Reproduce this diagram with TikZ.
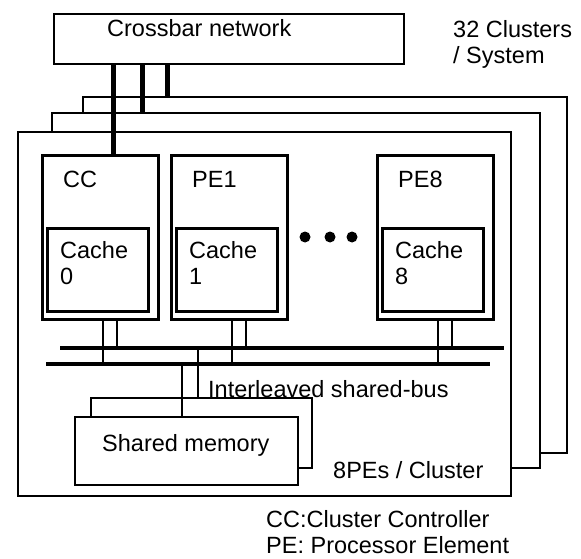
\documentclass[tikz,border=0pt]{standalone}
\usepackage{fontspec}
\setmainfont{Liberation Sans}
\usetikzlibrary{positioning}

\tikzset{
  frame/.style={draw, line width=1.6pt, fill=white, anchor=north west,
    inner sep=0pt, outer sep=0pt},
  xbarbox/.style={draw, line width=1.8pt, anchor=north west,
    minimum width=350pt, minimum height=50pt, inner sep=0pt, outer sep=0pt},
  pebox/.style={draw, line width=3pt, anchor=north west,
    minimum width=116pt, minimum height=163pt, inner sep=0pt, outer sep=0pt},
  cachebox/.style={draw, line width=3pt, anchor=south west,
    minimum width=101pt, minimum height=83pt, inner sep=0pt, outer sep=0pt},
  membox/.style={draw, line width=1.8pt, fill=white, anchor=north west,
    inner sep=0pt, outer sep=0pt},
  txt/.style={inner sep=0pt, anchor=base west, align=left},
  link/.style={line width=5pt},
  bus/.style={line width=3.2pt},
  tap/.style={line width=2.2pt},
}

\begin{document}
\begin{tikzpicture}[x=1pt,y=-1pt,font=\fontsize{23.5}{26}\selectfont]
  \useasboundingbox (0,0) rectangle (581,559);

  % crossbar
  \node[xbarbox] (xbar) at (54,14) {};
  \node[txt] (xbar-t) at (107,37) {Crossbar network};
  \node[txt] (sys-t) at (453,64) {32 Clusters\\/ System};

  % clusters, back to front
  \node[frame, minimum width=484pt, minimum height=356pt] (cl3) at (83,97) {};
  \node[frame, minimum width=488pt, minimum height=355pt] (cl2) at (52,113) {};
  \node[frame, minimum width=493pt, minimum height=364pt] (cl1) at (18,132) {};

  \draw[link] ([xshift=88pt]xbar.south west) -- ([xshift=88pt]xbar.south west |- cl2.north);
  \draw[link] ([xshift=113pt]xbar.south west) -- ([xshift=113pt]xbar.south west |- cl3.north);

  % buses
  \coordinate (busA-w) at (60,348);
  \coordinate (busA-e) at (504,348);
  \coordinate (busB-w) at (46,364);
  \coordinate (busB-e) at (490,364);
  \draw[bus] (busA-w) -- (busA-e);
  \draw[bus] (busB-w) -- (busB-e);

  % CC and PEs
  \foreach \nm/\xx/\lbl/\num in {cc/42/CC/0, pe1/171/PE1/1, pe8/377/PE8/8}{
    \node[pebox] (\nm) at (\xx,156) {};
    \node[cachebox] (cache\num) at ([xshift=5pt,yshift=8pt]\nm.south west) {};
    \node[txt] (\nm-t) at ([xshift=21pt,yshift=-31pt]\nm.north west) {\lbl};
    \node[txt] (cache\num-t) at ([xshift=13pt,yshift=-56pt]cache\num.north west) {Cache\\\num};
    \draw[tap] ([xshift=61pt]\nm.south west) -- ([xshift=61pt]\nm.south west |- busB-w);
    \draw[tap] ([xshift=75pt]\nm.south west) -- ([xshift=75pt]\nm.south west |- busA-w);
  }
  \draw[link] ([xshift=59pt]xbar.south west) -- ([xshift=59pt]xbar.south west |- cc.north);

  % dots
  \foreach \dx in {305,330,352}
    \fill (\dx,237) circle (5.5pt);

  % shared memory
  \node[membox, minimum width=221pt, minimum height=70pt] (mem2) at (91,398) {};
  \node[membox, minimum width=223pt, minimum height=68pt] (mem) at (75,417) {};
  \node[txt] (mem-t) at (102,451) {Shared memory};
  \draw[tap] (198,348) -- (198,348 |- mem2.north);
  \draw[tap] (182,364) -- (182,364 |- mem.north);

  % labels
  \node[txt] (bus-t) at (208,397) {Interleaved shared-bus};
  \node[txt] (cl-t) at (333,478) {8PEs / Cluster};
  \node[txt] (leg-t) at (266,553) {CC:Cluster Controller\\PE: Processor Element};
\end{tikzpicture}
\end{document}
